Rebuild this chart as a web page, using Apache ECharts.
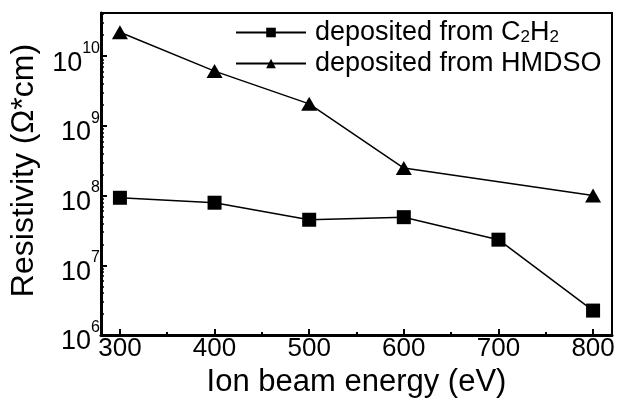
<!DOCTYPE html>
<html><head><meta charset="utf-8">
<script src="https://cdn.jsdelivr.net/npm/echarts@6/dist/echarts.min.js"></script>
<style>html,body{margin:0;padding:0;background:#fff}#c{width:618px;height:403px}</style>
</head><body><div id="c"></div>
<script>
const FONT = 'Liberation Sans, Arial, sans-serif';
const energies = [300, 400, 500, 600, 700, 800];
const c2h2 = [9.3e7, 7.9e7, 4.5e7, 4.9e7, 2.33e7, 2.24e6];
const hmdso = [2.2e10, 6.1e9, 2.07e9, 2.48e8, null, 1.0e8];
const seriesNames = ['deposited from C2H2', 'deposited from HMDSO'];
const legendRich = ['deposited from C{s|2}H{s|2}', 'deposited from HMDSO'];
const xTicks = [300, 400, 500, 600, 700, 800];
const xMinorTicks = [350, 450, 550, 650, 750];
const yTicks = [1e6, 1e7, 1e8, 1e9, 1e10];
const yMinorTicks = [];
for (let e = 6; e <= 10; e++) for (let m = 2; m <= 9; m++) { const v = m * Math.pow(10, e); if (v <= 4.1e10) yMinorTicks.push(v); }

function pairs(xs, ys) { const out = []; xs.forEach((x, i) => { if (ys[i] != null) out.push([x, ys[i]]); }); return out; }

const chart = echarts.init(document.getElementById('c'), null, {renderer: 'canvas'});
const black = '#000';
chart.setOption({
  animation: false,
  backgroundColor: '#fff',
  grid: {left: 100, top: 13, right: 6, bottom: 64, show: true, borderColor: black, borderWidth: 2, backgroundColor: 'transparent'},
  legend: {
    orient: 'vertical', left: 235, top: 19, itemWidth: 70, itemHeight: 12, itemGap: 4, padding: 0,
    data: seriesNames,
    formatter: name => legendRich[seriesNames.indexOf(name)],
    textStyle: {fontSize: 27, fontFamily: FONT, color: black, padding: [0, 0, 0, 4],
      rich: {s: {fontSize: 17, fontFamily: FONT, color: black, verticalAlign: 'bottom'}}}
  },
  xAxis: [
    {type: 'value', min: 280, max: 820, position: 'bottom',
     axisLine: {lineStyle: {color: black, width: 3}},
     axisTick: {inside: true, length: 6, customValues: xTicks, lineStyle: {color: black, width: 2}},
     axisLabel: {customValues: xTicks, fontSize: 26, fontFamily: FONT, color: black, margin: 1},
     splitLine: {show: false},
     name: 'Ion beam energy (eV)', nameLocation: 'middle', nameGap: 32,
     nameTextStyle: {fontSize: 31, fontFamily: FONT, color: black}},
    {type: 'value', min: 280, max: 820, position: 'bottom',
     axisLine: {show: false},
     axisTick: {inside: true, length: 3, customValues: xMinorTicks, lineStyle: {color: black, width: 2}},
     axisLabel: {show: false}, splitLine: {show: false}}
  ],
  yAxis: [
    {type: 'log', logBase: 10, min: 1e6, max: 4.16e10, position: 'left',
     axisLine: {lineStyle: {color: black, width: 3}},
     axisTick: {inside: true, length: 6, customValues: yTicks, lineStyle: {color: black, width: 2}},
     axisLabel: {customValues: yTicks, margin: 1, color: black,
       formatter: v => '{b|10}{e|' + Math.round(Math.log10(v)) + '}',
       rich: {b: {fontSize: 27, fontFamily: FONT, color: black, padding: [14, 0, 0, 0]},
              e: {fontSize: 16, fontFamily: FONT, color: black, verticalAlign: 'top', padding: [5, 0, 0, 0]}}},
     splitLine: {show: false},
     name: 'Resistivity (Ω*cm)', nameLocation: 'middle', nameGap: 61,
     nameTextStyle: {fontSize: 32, fontFamily: FONT, color: black, padding: [0, 0, 0, 7]}},
    {type: 'log', logBase: 10, min: 1e6, max: 4.16e10, position: 'left',
     axisLine: {show: false},
     axisTick: {inside: true, length: 3, customValues: yMinorTicks, lineStyle: {color: black, width: 1.5}},
     axisLabel: {show: false}, splitLine: {show: false}}
  ],
  series: [
    {name: seriesNames[0], type: 'line', xAxisIndex: 0, yAxisIndex: 0, data: pairs(energies, c2h2),
     symbol: 'rect', symbolSize: 14, itemStyle: {color: black}, lineStyle: {color: black, width: 1.5}},
    {name: seriesNames[1], type: 'line', xAxisIndex: 0, yAxisIndex: 0, data: pairs(energies, hmdso),
     symbol: 'triangle', symbolSize: [16, 14], itemStyle: {color: black}, lineStyle: {color: black, width: 1.5}}
  ]
});
</script></body></html>
